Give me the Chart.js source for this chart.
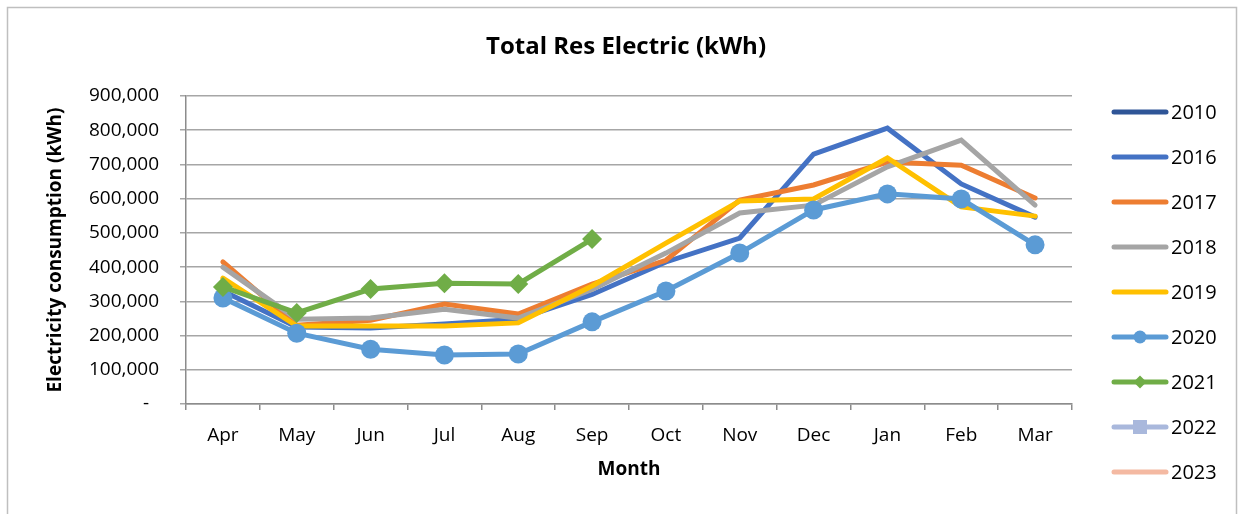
<!DOCTYPE html>
<html>
<head>
<meta charset="utf-8">
<script src="https://cdn.jsdelivr.net/npm/chart.js@4.4.1/dist/chart.umd.min.js"></script>
<style>
html,body{margin:0;padding:0;background:#fff;}
#wrap{position:relative;width:1243px;height:514px;}
</style>
</head>
<body>
<div id="wrap"><canvas id="c" width="1243" height="514"></canvas></div>
<script>
const months = ['Apr','May','Jun','Jul','Aug','Sep','Oct','Nov','Dec','Jan','Feb','Mar'];
const yTicks = [0,100000,200000,300000,400000,500000,600000,700000,800000,900000];
const s2010 = [null,null,null,null,null,null,null,null,null,null,null,null];
const s2016 = [330000,225000,222000,234000,248000,320000,415000,485000,730000,806000,643000,546000];
const s2017 = [415000,230000,245000,292000,263000,350000,420000,596000,640000,707000,698000,602000];
const s2018 = [400000,248000,251000,277000,251000,335000,441000,558000,581000,693000,771000,581000];
const s2019 = [368000,228000,228000,228000,237000,345000,470000,593000,599000,719000,576000,549000];
const s2020 = [310000,207000,160000,143000,146000,240000,330000,441000,567000,614000,599000,465000];
const s2021 = [342000,266000,336000,353000,351000,482000,null,null,null,null,null,null];
const s2022 = [null,null,null,null,null,null,null,null,null,null,null,null];
const s2023 = [null,null,null,null,null,null,null,null,null,null,null,null];
const seriesNames = ['2010','2016','2017','2018','2019','2020','2021','2022','2023'];
const chartTitle = 'Total Res Electric (kWh)';

const FONT = "'Open Sans', 'Liberation Sans', sans-serif";
const colors = ['#2F5597','#4472C4','#ED7D31','#A5A5A5','#FFC000','#5B9BD5','#70AD47','#A9B8DC','#F4B9A2'];
const markers = [false,false,false,false,false,'circle','rectRot','rect',false];
const seriesData = [s2010,s2016,s2017,s2018,s2019,s2020,s2021,s2022,s2023];

const datasets = seriesNames.map((n,i)=>({
  label:n,
  data:seriesData[i],
  borderColor:colors[i],
  backgroundColor:colors[i],
  borderWidth:5,
  tension:0,
  pointStyle: markers[i] || 'circle',
  pointRadius: markers[i]==='circle' ? 9.5 : (markers[i]==='rectRot' ? 10 : (markers[i] ? 8 : 0)),
  pointHoverRadius:0,
  pointBorderWidth:0,
  borderCapStyle:'round',
  borderJoinStyle:'miter'
}));
datasets.forEach((d,i)=>{ d.order = seriesNames.length - i; });

const legendPlugin = {
  id:'customLegend',
  afterDraw(chart){
    const ctx = chart.ctx;
    ctx.save();
    // title
    ctx.fillStyle = '#000';
    ctx.font = 'bold 24px ' + FONT;
    ctx.textAlign = 'center';
    ctx.textBaseline = 'middle';
    ctx.fillText(chartTitle, 626, 47);
    seriesNames.forEach((n,i)=>{
      const y = 112 + 45*i;
      ctx.strokeStyle = colors[i];
      ctx.lineWidth = 5;
      ctx.lineCap = 'round';
      ctx.beginPath(); ctx.moveTo(1114,y); ctx.lineTo(1166,y); ctx.stroke();
      ctx.fillStyle = colors[i];
      if (markers[i]==='circle'){ ctx.beginPath(); ctx.arc(1140,y,6.5,0,Math.PI*2); ctx.fill(); }
      else if (markers[i]==='rectRot'){ ctx.beginPath(); ctx.moveTo(1140,y-6.5); ctx.lineTo(1146.5,y); ctx.lineTo(1140,y+6.5); ctx.lineTo(1133.5,y); ctx.closePath(); ctx.fill(); }
      else if (markers[i]==='rect'){ ctx.fillRect(1133,y-7,14,14); }
      ctx.fillStyle = '#000';
      ctx.font = '20px ' + FONT;
      ctx.textBaseline = 'middle';
      ctx.textAlign = 'left';
      ctx.fillText(n, 1171, y+1);
    });
    ctx.restore();
  }
};
const borderPlugin = {
  id:'outerBorder',
  beforeDraw(chart){
    const ctx = chart.ctx;
    ctx.save();
    ctx.fillStyle='#fff'; ctx.fillRect(0,0,1243,514);
    ctx.strokeStyle = '#BFBFBF';
    ctx.lineWidth = 1.5;
    ctx.strokeRect(7.5,7.5,1229,540);
    ctx.restore();
  }
};

new Chart(document.getElementById('c'), {
  type:'line',
  data:{labels:months, datasets},
  plugins:[borderPlugin, legendPlugin],
  options:{
    responsive:false,
    animation:false,
    layout:{padding:{left:0,right:171,top:96,bottom:0}},
    plugins:{
      legend:{display:false},
      tooltip:{enabled:false},
      title:{display:false}
    },
    scales:{
      x:{
        offset:true,
        grid:{display:true,drawOnChartArea:false,drawTicks:true,tickLength:6,color:'#8C8C8C',lineWidth:1.5,offset:true},
        border:{display:true,color:'#8C8C8C',width:1.5},
        ticks:{color:'#000',font:{family:FONT,size:19},padding:14,maxRotation:0,autoSkip:false},
        title:{display:true,text:'Month',color:'#000',font:{family:FONT,size:19,weight:'bold'},padding:{top:0,bottom:33}},
        afterFit(s){ s.height = 110; }
      },
      y:{
        min:0,max:900000,
        afterBuildTicks(s){ s.ticks = yTicks.map(v=>({value:v})); },
        grid:{color:'#A6A6A6',lineWidth:1.5,tickLength:6,drawTicks:true},
        border:{display:true,color:'#8C8C8C',width:1.5},
        ticks:{color:'#000',font:{family:FONT,size:19},padding:21,
          callback:(v)=> v===0 ? '-  ' : v.toLocaleString('en-US')},
        title:{display:true,text:'Electricity consumption (kWh)',color:'#000',font:{family:FONT,size:19,weight:'bold'},padding:{top:44,bottom:0}},
        afterFit(s){ s.width = 186; }
      }
    }
  }
});
</script>
</body>
</html>
